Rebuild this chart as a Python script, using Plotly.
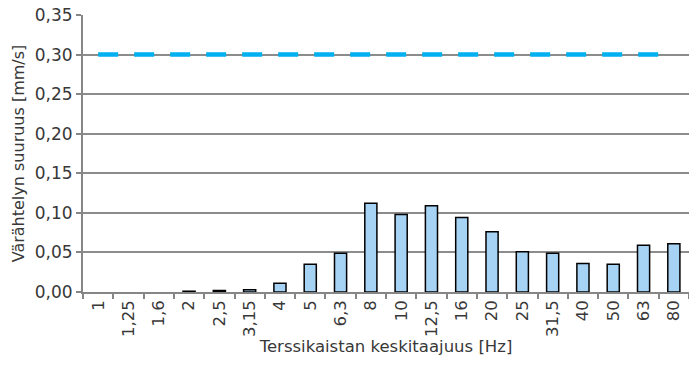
import plotly.graph_objects as go

categories = ["1", "1,25", "1,6", "2", "2,5", "3,15", "4", "5", "6,3", "8",
              "10", "12,5", "16", "20", "25", "31,5", "40", "50", "63", "80"]
vibration = [0.0, 0.0, 0.0, 0.001, 0.002, 0.003, 0.011, 0.035, 0.049, 0.112,
             0.098, 0.109, 0.094, 0.076, 0.051, 0.049, 0.036, 0.035, 0.059, 0.061]
limit = [0.30] * len(categories)

y_ticks = [0, 0.05, 0.10, 0.15, 0.20, 0.25, 0.30, 0.35]

outline_widths = [1.5 if v > 0 else 0 for v in vibration]

fig = go.Figure()
fig.add_trace(go.Bar(
    x=categories, y=vibration,
    marker=dict(color="#A6D2F4", line=dict(color="#000000", width=outline_widths)),
    showlegend=False,
))
fig.add_trace(go.Scatter(
    x=categories, y=limit, mode="lines",
    line=dict(color="#00B0F0", width=4.5, dash="20px,16px"),
    showlegend=False,
))

font_family = "DejaVu Sans, Verdana, sans-serif"
fig.update_layout(
    width=689, height=373,
    margin=dict(l=83, r=0, t=15, b=81),
    paper_bgcolor="white", plot_bgcolor="white",
    bargap=0.6,
    separators=", ",
    font=dict(family=font_family, size=17, color="#383838"),
    xaxis=dict(
        type="category",
        automargin=False,
        tickson="boundaries",
        ticks="outside", ticklen=5, tickcolor="#868686", tickwidth=1.5,
        tickangle=-90,
        showline=True, linecolor="#868686", linewidth=1.5,
        showgrid=False,
        title=dict(text="Terssikaistan keskitaajuus [Hz]", font=dict(size=16.5), standoff=2),
        tickfont=dict(size=16.5),
    ),
    yaxis=dict(
        range=[0, 0.35],
        automargin=False,
        tickvals=y_ticks,
        tickformat=".2f",
        ticks="outside", ticklen=5, tickcolor="#868686", tickwidth=1.5,
        showline=True, linecolor="#868686", linewidth=2,
        showgrid=True, gridcolor="#8C8C8C", gridwidth=1.5,
        zeroline=False,
        title=dict(text="Värähtelyn suuruus [mm/s]", font=dict(size=16), standoff=6),
        tickfont=dict(size=17),
    ),
)

fig.write_html("out.html", config={"displayModeBar": False},
               post_script="document.body.style.margin='0';")
